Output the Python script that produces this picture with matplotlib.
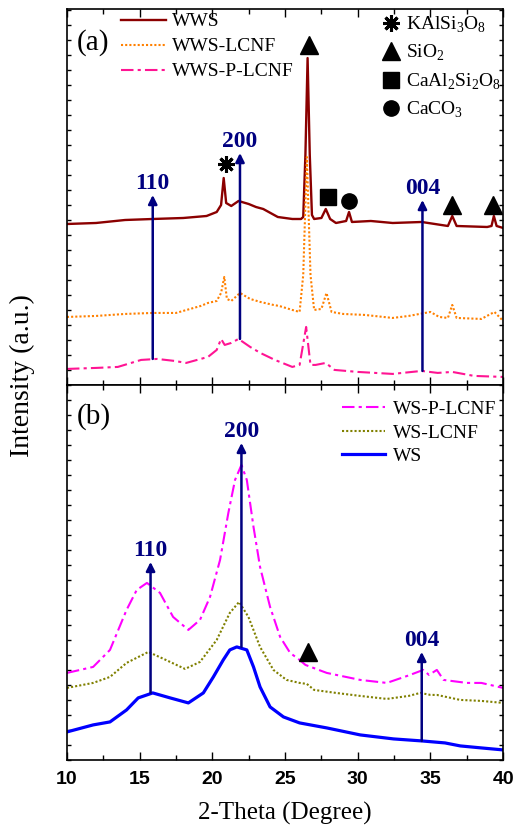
import matplotlib
matplotlib.use("Agg")
import matplotlib.pyplot as plt
from matplotlib.ticker import MultipleLocator, NullFormatter
from matplotlib.lines import Line2D

plt.rcParams['font.family'] = 'Liberation Serif'
plt.rcParams['mathtext.fontset'] = 'custom'
plt.rcParams['mathtext.rm'] = 'Liberation Serif'

# ---- panel (a) data (2-theta in degree, intensity in a.u.) ----
wws_x = [10, 12, 14, 15.9, 18, 19.6, 20.3, 20.6, 20.78, 20.95, 21.3, 21.8, 22.5, 23.0, 23.5,
         24.0, 24.5, 25.5, 26.1, 26.25, 26.4, 26.55, 26.7, 26.85, 27.0, 27.5, 27.8, 28.1, 28.5,
         29.2, 29.4, 29.6, 30.9, 32.4, 34.4, 36.2, 36.5, 36.8, 38.9, 39.2, 39.36, 39.55, 40]
wws_y = [161, 162, 165, 166, 167, 169, 173, 180, 207, 182, 179, 184, 181, 178, 176,
         172, 168, 166, 166, 168, 230, 327, 230, 170, 166, 167, 176, 166, 162,
         164, 173, 163, 164, 162, 163, 159, 169, 159, 158, 159, 169, 159, 157]

wws_lcnf_x = [10, 12, 14, 15.9, 17.5, 19.2, 19.7, 20.3, 20.6, 20.82, 21.0, 21.3, 21.9, 22.6,
              23.3, 24.2, 24.6, 25.5, 26.0, 26.25, 26.5, 26.75, 27.0, 27.5, 27.85, 28.2, 29,
              30.5, 32.4, 33.5, 35.0, 35.6, 36.2, 36.5, 36.8, 38.5, 39.4, 40]
wws_lcnf_y = [68, 69, 71, 72, 72, 79, 82, 84, 92, 108, 86, 84, 92, 86,
              83, 80, 79, 75, 73, 110, 228, 110, 75, 76, 92, 73, 71,
              70, 67, 69, 73, 68, 67, 80, 67, 66, 73, 64]

wws_plcnf_x = [10, 12, 13.5, 15.1, 16.2, 17.4, 18.2, 19.7, 20.3, 20.6, 20.85, 21.3, 21.8, 22.6,
               23.3, 24.3, 25.5, 26.0, 26.45, 26.75, 27.1, 27.8, 28.4, 30, 32.4, 34.4, 35.5,
               36.5, 38, 40]
wws_plcnf_y = [16, 17, 18, 25, 26, 24, 22, 28, 35, 46, 40, 42, 46, 38,
               32, 25, 18, 20, 58, 20, 20, 22, 15, 13, 11, 14, 12,
               13, 9, 8]

# ---- panel (b) data ----
ws_plcnf_x = [10, 11.8, 12.96, 14.1, 14.8, 15.5, 16.4, 17.3, 18.35, 19.15, 19.84, 20.53, 21.1,
              21.56, 22.0, 22.37, 22.83, 23.28, 23.97, 24.66, 25.35, 26.0, 26.4, 27.87, 30.17,
              32.0, 33.6, 34.5, 34.9, 35.44, 35.9, 37.5, 38.5, 40]
ws_plcnf_y = [87, 93, 110, 150, 170, 177, 167, 143, 130, 140, 163, 200, 247,
              280, 295, 280, 233, 193, 153, 123, 107, 100, 95, 87, 80,
              77, 85, 90, 85, 90, 80, 77, 77, 72]

ws_lcnf_x = [10, 11.8, 12.96, 14.1, 15.6, 16.8, 18.12, 19.15, 20.3, 21.2, 21.84, 22.48, 23.28,
             24.2, 25.1, 26.0, 26.5, 27.0, 28.5, 30.17, 32.0, 33.5, 34.3, 35.0, 35.44, 37.05,
             38.5, 40]
ws_lcnf_y = [72, 77, 83, 97, 108, 100, 91, 98, 120, 147, 158, 143, 113,
             90, 80, 77, 76, 70, 67, 64, 61, 64, 67, 65, 65, 60,
             59, 57]

ws_x = [10, 11.8, 12.96, 14.1, 14.9, 15.9, 17.1, 18.35, 19.38, 20.07, 20.75, 21.2, 21.68, 22.37,
        22.83, 23.28, 23.97, 24.89, 26.0, 27.87, 30.17, 32.46, 34.4, 36.0, 37.05, 38.5, 40]
ws_y = [28, 35, 38, 50, 62, 67, 62, 57, 67, 83, 100, 110, 113, 110,
        93, 73, 53, 43, 37, 32, 25, 21, 19, 17, 14, 12, 10]

# crystal plane arrows: (label, position, base, tip)
arrows_a = [("110", 15.9, 26, 190), ("200", 21.9, 46, 232), ("004", 34.45, 14, 185)]
arrows_b = [("110", 15.75, 67, 198), ("200", 22.0, 113, 317), ("004", 34.4, 19, 108)]

# phase markers
kal_pos = [(20.94, 221)]
sio2_pos_a = [(26.65, 340), (36.5, 180), (39.3, 180)]
caal_pos = [(27.95, 188)]
caco3_pos = [(29.4, 184)]
sio2_pos_b = [(26.6, 108)]

NAVY = '#000080'

fig = plt.figure(figsize=(5.15, 8.26), dpi=100)
ax_a = fig.add_axes([0.130, 0.534, 0.847, 0.455])
ax_b = fig.add_axes([0.130, 0.080, 0.847, 0.454])

ax_a.plot(wws_x, wws_y, color='#8B0000', lw=1.7, label='WWS')
ax_a.plot(wws_lcnf_x, wws_lcnf_y, color='#FF8000', lw=1.5, ls=(0, (1, 1)), label='WWS-LCNF')
ax_a.plot(wws_plcnf_x, wws_plcnf_y, color='#FF1493', lw=1.5, ls=(0, (6, 2, 1.5, 2)), label='WWS-P-LCNF')

ax_b.plot(ws_plcnf_x, ws_plcnf_y, color='#FF00FF', lw=1.5, ls=(0, (6, 2, 1.5, 2)), label='WS-P-LCNF')
ax_b.plot(ws_lcnf_x, ws_lcnf_y, color='#808000', lw=1.5, ls=(0, (1, 1)), label='WS-LCNF')
ax_b.plot(ws_x, ws_y, color='#0000FF', lw=2.3, label='WS')

for ax, arrows in [(ax_a, arrows_a), (ax_b, arrows_b)]:
    for lab, xp, base, tip in arrows:
        ax.annotate('', xy=(xp, tip), xytext=(xp, base),
                    arrowprops=dict(arrowstyle='-|>', color=NAVY, lw=1.8, mutation_scale=13,
                                    shrinkA=0, shrinkB=0))
        ax.text(xp, tip + 1, lab, color=NAVY, fontsize=17, fontweight='bold',
                ha='center', va='bottom')

ast = dict(ls='none', marker=(8, 2, 0), ms=12, mew=2.2, color='k')
ax_a.plot(*zip(*kal_pos), **ast)
ax_a.plot(*zip(*sio2_pos_a), ls='none', marker='^', ms=13, color='k')
ax_a.plot(*zip(*caal_pos), ls='none', marker='s', ms=12, color='k')
ax_a.plot(*zip(*caco3_pos), ls='none', marker='o', ms=11, color='k')
ax_b.plot(*zip(*sio2_pos_b), ls='none', marker='^', ms=13, color='k')

# legends
leg_a = ax_a.legend(loc='upper left', bbox_to_anchor=(0.125, 0.99), frameon=False,
                    fontsize=14, handlelength=2.3, handletextpad=0.3, labelspacing=0.38,
                    borderpad=0, borderaxespad=0)
ax_a.add_artist(leg_a)

phase_handles = [
    Line2D([], [], **ast),
    Line2D([], [], ls='none', marker='^', ms=13, color='k'),
    Line2D([], [], ls='none', marker='s', ms=12, color='k'),
    Line2D([], [], ls='none', marker='o', ms=11, color='k'),
]
phase_labels = [r'KAlSi$_3$O$_8$', r'SiO$_2$', r'CaAl$_2$Si$_2$O$_8$', r'CaCO$_3$']
ax_a.legend(phase_handles, phase_labels, loc='upper left', bbox_to_anchor=(0.72, 0.985),
            frameon=False, fontsize=14, handlelength=1.0, handletextpad=0.3,
            labelspacing=0.42, borderpad=0, borderaxespad=0)

ax_b.legend(loc='upper left', bbox_to_anchor=(0.631, 0.958), frameon=False, fontsize=14,
            handlelength=2.2, handletextpad=0.4, labelspacing=0.3, borderpad=0, borderaxespad=0)

ax_a.text(0.023, 0.91, '(a)', transform=ax_a.transAxes, fontsize=21, va='center', ha='left')
ax_b.text(0.023, 0.915, '(b)', transform=ax_b.transAxes, fontsize=21, va='center', ha='left')

for ax, top in [(ax_a, 376), (ax_b, 375)]:
    ax.set_xlim(10, 40)
    ax.set_ylim(0, top)
    ax.xaxis.set_major_locator(MultipleLocator(5))
    ax.xaxis.set_minor_locator(MultipleLocator(2.5))
    ax.yaxis.set_major_locator(MultipleLocator(15))
    ax.yaxis.set_major_formatter(NullFormatter())
    ax.tick_params(axis='both', which='both', direction='in', top=True, right=True)
    ax.tick_params(axis='x', which='major', length=6, width=1)
    ax.tick_params(axis='x', which='minor', length=3.5, width=1)
    ax.tick_params(axis='y', which='major', length=3, width=1)
    for sp in ax.spines.values():
        sp.set_linewidth(1.2)

ax_a.xaxis.set_major_formatter(NullFormatter())
for lbl in ax_b.get_xticklabels():
    lbl.set_fontfamily('Liberation Sans')
    lbl.set_fontweight('bold')
    lbl.set_fontsize(14)
ax_b.tick_params(axis='x', which='major', pad=8)
ax_b.set_xlabel('2-Theta (Degree)', fontsize=18, labelpad=10)

fig.text(0.043, 0.545, 'Intensity (a.u.)', rotation=90, fontsize=20, ha='center', va='center')

fig.savefig('out.png', dpi=100)
